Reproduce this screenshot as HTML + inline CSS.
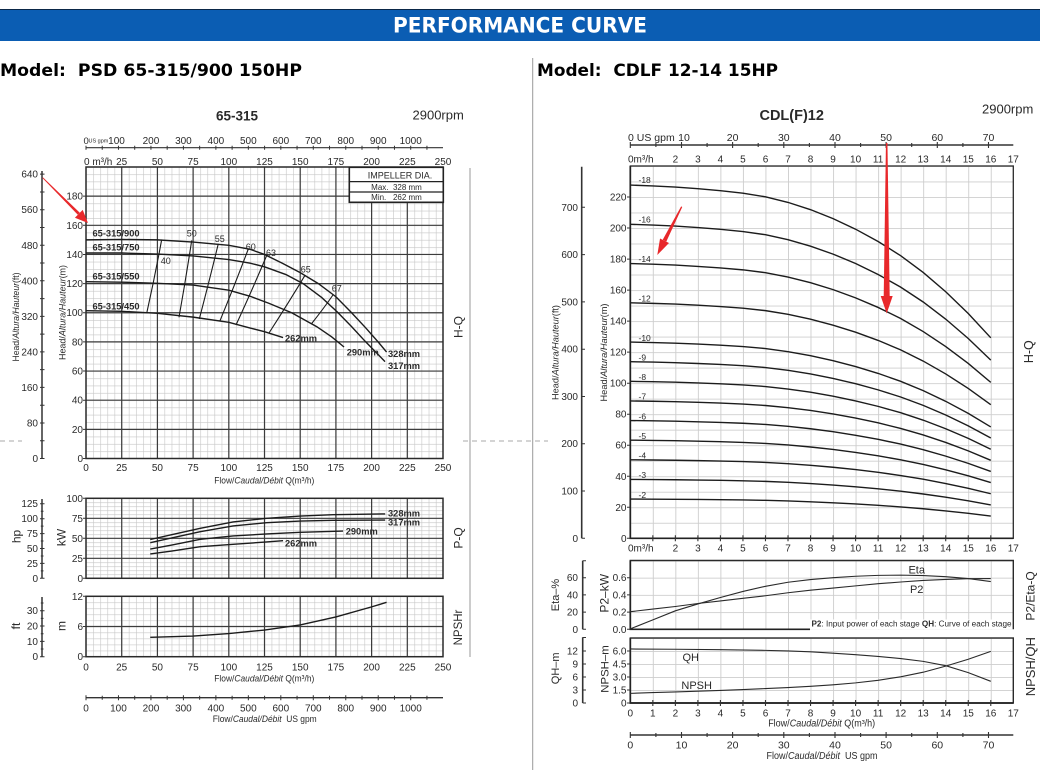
<!DOCTYPE html>
<html><head><meta charset="utf-8">
<style>
html,body{margin:0;padding:0;background:#fff;width:1040px;height:782px;overflow:hidden}
svg{display:block}
text{fill:#2a2a2a;font-family:"Liberation Sans",Arial,sans-serif}
.a{font-size:10px}
.e{text-anchor:end}
.m{text-anchor:middle}
.c{fill:none;stroke:#1c1c1c;stroke-width:1.4;vector-effect:non-scaling-stroke}
.c2{fill:none;stroke:#2a2a2a;stroke-width:1.1;vector-effect:non-scaling-stroke}
.lb{font-size:9.3px;font-weight:bold}
</style></head><body>
<svg width="1040" height="782" viewBox="0 0 1040 782" xmlns="http://www.w3.org/2000/svg">
<defs>
<pattern id="p1" patternUnits="userSpaceOnUse" x="86" y="167" width="7.14" height="7.2875"><path d="M0,0.3H7.14M0.3,0V7.2875" stroke="#c6c6c6" stroke-width="0.6" fill="none"/></pattern>
<pattern id="p2" patternUnits="userSpaceOnUse" x="86" y="498.3" width="7.14" height="4"><path d="M0,0.3H7.14M0.3,0V4" stroke="#c6c6c6" stroke-width="0.6" fill="none"/></pattern>
<pattern id="p3" patternUnits="userSpaceOnUse" x="86" y="596.3" width="7.14" height="6.04"><path d="M0,0.3H7.14M0.3,0V6.04" stroke="#c6c6c6" stroke-width="0.6" fill="none"/></pattern>
<pattern id="p4" patternUnits="userSpaceOnUse" x="630.3" y="166" width="22.53" height="15.513"><path d="M0,0.45H22.53M0.45,0V15.513" stroke="#cdcdcd" stroke-width="0.9" fill="none"/></pattern>
<pattern id="p5" patternUnits="userSpaceOnUse" x="630.3" y="560.5" width="22.53" height="17.2"><path d="M0,0.45H22.53M0.45,0V17.2" stroke="#cdcdcd" stroke-width="0.9" fill="none"/></pattern>
<pattern id="p6" patternUnits="userSpaceOnUse" x="630.3" y="638" width="22.53" height="13"><path d="M0,0.45H22.53M0.45,0V13" stroke="#cdcdcd" stroke-width="0.9" fill="none"/></pattern>
<path id="hq" class="c" d="M0,12.65 L1,12.62 2,12.58 3,12.52 4,12.45 5,12.36 6,12.23 7,12.03 8,11.77 9,11.45 10,11.07 11,10.63 12,10.12 13,9.52 14,8.83 15,8.05 16,7.18"/>
</defs>
<rect width="1040" height="782" fill="#fff"/>

<!-- HEADER -->
<rect x="0" y="9" width="1040" height="32" fill="#0b5db3"/>
<line x1="0" y1="9.5" x2="1040" y2="9.5" stroke="#0a2748" stroke-width="1"/>
<text x="520" y="32.3" text-anchor="middle" style="font-family:'DejaVu Sans','Liberation Sans',sans-serif;font-weight:bold;font-size:21px;fill:#fff" textLength="254" lengthAdjust="spacingAndGlyphs">PERFORMANCE CURVE</text>
<text x="0" y="76" style="font-family:'DejaVu Sans','Liberation Sans',sans-serif;font-weight:bold;font-size:17px;fill:#000;white-space:pre" textLength="302" lengthAdjust="spacingAndGlyphs">Model:  PSD 65-315/900 150HP</text>
<text x="537" y="76" style="font-family:'DejaVu Sans','Liberation Sans',sans-serif;font-weight:bold;font-size:17px;fill:#000;white-space:pre" textLength="241" lengthAdjust="spacingAndGlyphs">Model:  CDLF 12-14 15HP</text>

<!-- separators -->
<line x1="532.7" y1="58" x2="532.7" y2="770" stroke="#9a9a9a" stroke-width="1"/>
<line x1="470" y1="168" x2="470" y2="657" stroke="#9a9a9a" stroke-width="1"/>
<path d="M0,441H22M463,441H548" stroke="#a8a8a8" stroke-width="1" stroke-dasharray="5,4"/>

<!-- ================= LEFT CHART ================= -->
<text x="237" y="120.7" class="m" style="font-size:13.5px;font-weight:bold">65-315</text>
<text x="412.5" y="119.5" style="font-size:13px">2900rpm</text>

<!-- top gpm axis -->
<path d="M86,147.7H443" stroke="#333" stroke-width="1.2"/>
<path d="M86,145.7V149.7M102.24,145.7V149.7M118.47,145.7V149.7M134.71,145.7V149.7M150.94,145.7V149.7M167.18,145.7V149.7M183.41,145.7V149.7M199.65,145.7V149.7M215.88,145.7V149.7M232.12,145.7V149.7M248.35,145.7V149.7M264.59,145.7V149.7M280.82,145.7V149.7M297.06,145.7V149.7M313.29,145.7V149.7M329.53,145.7V149.7M345.76,145.7V149.7M362,145.7V149.7M378.23,145.7V149.7M394.47,145.7V149.7M410.7,145.7V149.7M426.94,145.7V149.7" stroke="#333" stroke-width="1"/>
<text x="83.5" y="144" style="font-size:9.5px">0</text>
<text x="88.5" y="142.5" style="font-size:5.5px">US gpm</text>
<g class="a m">
<text x="116.5" y="144">100</text><text x="150.94" y="144">200</text><text x="183.41" y="144">300</text><text x="215.88" y="144">400</text><text x="248.35" y="144">500</text><text x="280.82" y="144">600</text><text x="313.29" y="144">700</text><text x="345.76" y="144">800</text><text x="378.23" y="144">900</text><text x="410.7" y="144">1000</text>
</g>
<text x="84" y="165" class="a">0 m³/h</text>
<g class="a m">
<text x="121.7" y="165">25</text><text x="157.4" y="165">50</text><text x="193.1" y="165">75</text><text x="228.8" y="165">100</text><text x="264.5" y="165">125</text><text x="300.2" y="165">150</text><text x="335.9" y="165">175</text><text x="371.6" y="165">200</text><text x="407.3" y="165">225</text><text x="443" y="165">250</text>
</g>

<!-- main H-Q plot -->
<rect x="86" y="167" width="357" height="291.5" fill="url(#p1)"/>
<path d="M121.7,167V458.5M157.4,167V458.5M193.1,167V458.5M228.8,167V458.5M264.5,167V458.5M300.2,167V458.5M335.9,167V458.5M371.6,167V458.5M407.3,167V458.5M86,196.15H443M86,225.3H443M86,254.45H443M86,283.6H443M86,312.75H443M86,341.9H443M86,371.05H443M86,400.2H443M86,429.35H443" stroke="#3c3c3c" stroke-width="1.2" fill="none"/>
<rect x="86" y="167" width="357" height="291.5" fill="none" stroke="#2a2a2a" stroke-width="1.5"/>
<path d="M83,458.5H86M83,429.35H86M83,400.2H86M83,371.05H86M83,341.9H86M83,312.75H86M83,283.6H86M83,254.45H86M83,225.3H86M83,196.15H86" stroke="#333" stroke-width="1"/>
<g class="a e">
<text x="83" y="462">0</text><text x="83" y="432.9">20</text><text x="83" y="403.7">40</text><text x="83" y="374.5">60</text><text x="83" y="345.4">80</text><text x="83" y="316.2">100</text><text x="83" y="287.1">120</text><text x="83" y="257.9">140</text><text x="83" y="228.8">160</text><text x="83" y="199.6">180</text>
</g>
<!-- ft axis -->
<path d="M42,171V458.5" stroke="#333" stroke-width="1.5"/>
<path d="M40,458.5H44.5M40,440.73H44.5M40,422.96H44.5M40,405.19H44.5M40,387.42H44.5M40,369.65H44.5M40,351.88H44.5M40,334.11H44.5M40,316.34H44.5M40,298.57H44.5M40,280.8H44.5M40,263.03H44.5M40,245.26H44.5M40,227.49H44.5M40,209.72H44.5M40,191.95H44.5M40,174.18H44.5" stroke="#333" stroke-width="1"/>
<g class="a e">
<text x="38" y="462">0</text><text x="38" y="426.5">80</text><text x="38" y="390.9">160</text><text x="38" y="355.4">240</text><text x="38" y="319.8">320</text><text x="38" y="284.3">400</text><text x="38" y="248.8">480</text><text x="38" y="213.2">560</text><text x="38" y="177.7">640</text>
</g>
<text transform="translate(18.8,317) rotate(-90)" class="m" style="font-size:9px" textLength="89" lengthAdjust="spacingAndGlyphs">Head/<tspan font-style="italic">Altura/Hauteur</tspan>(ft)</text>
<text transform="translate(65.3,312.5) rotate(-90)" class="m" style="font-size:9px" textLength="95" lengthAdjust="spacingAndGlyphs">Head/<tspan font-style="italic">Altura/Hauteur</tspan>(m)</text>
<text transform="translate(462.3,327) rotate(-90)" class="m" style="font-size:12px">H-Q</text>

<!-- impeller box -->
<rect x="349.3" y="167.3" width="94" height="35" fill="#fff" stroke="#222" stroke-width="1.6"/>
<path d="M349.3,181.6H443.3M349.3,192H443.3" stroke="#222" stroke-width="1.2"/>
<text x="400" y="178.5" class="m" style="font-size:9px">IMPELLER DIA.</text>
<text x="396.5" y="190" class="m" style="font-size:8px;white-space:pre">Max.  328 mm</text>
<text x="396.5" y="200" class="m" style="font-size:8px;white-space:pre">Min.   262 mm</text>

<!-- H-Q curves -->
<g transform="matrix(1.428,0,0,-1.4575,86,458.5)">
<path class="c" d="M0,150 L25,150.3 50,150 75,148.5 100,146.3 115,143.5 125,140 137.5,134 150,127.5 162.7,120 175,111 185,101 196,89.5 205,79.5 210.5,73"/>
<path class="c" d="M0,141 L25,141 50,140.3 75,139 100,136.5 115,134 125,131.5 140,126.2 152,120 165,110.5 176,100.5 186,90.5 195.4,80.5 209.4,66.5"/>
<path class="c" d="M0,121.3 L25,121 50,120.2 75,119 100,115.5 115,111.3 128,106.5 144,100 161.5,90.5 172,83.5 180.7,76.5"/>
<path class="c" d="M0,101.4 L25,101 50,99.6 75,97 100,93.4 115,89.5 125,87 138,83"/>
</g>
<!-- efficiency lines -->
<g fill="none" stroke="#1c1c1c" stroke-width="1.1">
<path d="M146.7,313.3 Q155,276 161.7,239.5"/>
<path d="M179,317.3 Q186,278 191.7,240.5"/>
<path d="M199.3,319 Q209.5,280 218.3,243.8"/>
<path d="M220,320.7 Q235.5,283 248.3,249"/>
<path d="M236,325 Q253,288 266.7,255.5"/>
<path d="M269.3,332.5 Q289,302 305,275.3"/>
<path d="M311.7,323.5 Q324,308 333.3,294.5"/>
</g>
<g style="font-size:9px">
<text x="160.7" y="264">40</text><text x="186.7" y="236.7">50</text><text x="214.7" y="242">55</text><text x="245.7" y="250">60</text><text x="266" y="256">63</text><text x="300.7" y="272.3">65</text><text x="331.7" y="291.7">67</text>
</g>
<g class="lb">
<text x="92.5" y="236.5">65-315/900</text>
<text x="92.5" y="250.5">65-315/750</text>
<text x="92.5" y="279.3">65-315/550</text>
<text x="92.5" y="309.3">65-315/450</text>
<text x="388" y="357">328mm</text>
<text x="388" y="369">317mm</text>
<text x="346.7" y="355.7">290mm</text>
<text x="285" y="341.7">262mm</text>
</g>
<g class="a m">
<text x="86" y="471">0</text><text x="121.7" y="471">25</text><text x="157.4" y="471">50</text><text x="193.1" y="471">75</text><text x="228.8" y="471">100</text><text x="264.5" y="471">125</text><text x="300.2" y="471">150</text><text x="335.9" y="471">175</text><text x="371.6" y="471">200</text><text x="407.3" y="471">225</text><text x="443" y="471">250</text>
</g>
<text x="264.3" y="483.5" class="m" style="font-size:9.3px" textLength="100" lengthAdjust="spacingAndGlyphs">Flow/<tspan font-style="italic">Caudal/Débit</tspan> Q(m³/h)</text>

<!-- red arrow left -->
<polygon points="42.42,177.98 42.98,177.42 79.8,212.8 77.8,214.8" fill="#e8282b"/>
<polygon points="88,223 74.9,217.7 82.7,209.9" fill="#e8282b"/>

<!-- P-Q plot -->
<rect x="86" y="498.3" width="357" height="80" fill="url(#p2)"/>
<path d="M121.7,498.3V578.3M157.4,498.3V578.3M193.1,498.3V578.3M228.8,498.3V578.3M264.5,498.3V578.3M300.2,498.3V578.3M335.9,498.3V578.3M371.6,498.3V578.3M407.3,498.3V578.3M86,518.3H443M86,538.3H443M86,558.3H443" stroke="#3c3c3c" stroke-width="1.2" fill="none"/>
<rect x="86" y="498.3" width="357" height="80" fill="none" stroke="#2a2a2a" stroke-width="1.5"/>
<path d="M83,498.3H86M83,518.3H86M83,538.3H86M83,558.3H86M83,578.3H86" stroke="#333"/>
<g class="a e">
<text x="83" y="501.8">100</text><text x="83" y="521.8">75</text><text x="83" y="541.8">50</text><text x="83" y="561.8">25</text><text x="83" y="581.8">0</text>
</g>
<path d="M42,499V578.3" stroke="#333" stroke-width="1.5"/>
<path d="M40,503.7H44.5M40,518.7H44.5M40,533.6H44.5M40,548.5H44.5M40,563.4H44.5M40,578.3H44.5M40.8,511.2H43.5M40.8,526.1H43.5M40.8,541H43.5M40.8,556H43.5M40.8,570.9H43.5" stroke="#333"/>
<g class="a e">
<text x="38" y="507.2">125</text><text x="38" y="522.2">100</text><text x="38" y="537.1">75</text><text x="38" y="552">50</text><text x="38" y="566.9">25</text><text x="38" y="581.8">0</text>
</g>
<text transform="translate(20.7,536.5) rotate(-90)" class="m" style="font-size:12px">hp</text>
<text transform="translate(65.5,537.5) rotate(-90)" class="m" style="font-size:12px">kW</text>
<text transform="translate(462.3,538) rotate(-90)" class="m" style="font-size:12px">P-Q</text>
<g transform="matrix(1.428,0,0,-0.8,86,578.3)">
<path class="c" d="M45,48.5 L60,54.5 80,62.5 103,70.5 126.5,75 150,77.8 173,79.5 209.5,80.5"/>
<path class="c" d="M45,44.5 L60,50.5 80,58.3 103,65.4 126.5,69.5 150,71.6 173,72.5 209.5,72.8"/>
<path class="c" d="M45,36.6 L60,41.5 80,48.7 103,52.9 126.5,55.4 150,57.5 180,59"/>
<path class="c" d="M45,30.4 L60,34 80,39.5 103,42.5 126.5,45.4 138,47"/>
</g>
<g class="lb">
<text x="388" y="516.7">328mm</text>
<text x="388" y="525.7">317mm</text>
<text x="345.7" y="534.3">290mm</text>
<text x="285" y="546.7">262mm</text>
</g>

<!-- NPSH plot -->
<rect x="86" y="596.3" width="357" height="60.4" fill="url(#p3)"/>
<path d="M121.7,596.3V656.7M157.4,596.3V656.7M193.1,596.3V656.7M228.8,596.3V656.7M264.5,596.3V656.7M300.2,596.3V656.7M335.9,596.3V656.7M371.6,596.3V656.7M407.3,596.3V656.7M86,626.5H443" stroke="#3c3c3c" stroke-width="1.2" fill="none"/>
<rect x="86" y="596.3" width="357" height="60.4" fill="none" stroke="#2a2a2a" stroke-width="1.5"/>
<path d="M83,596.3H86M83,626.5H86M83,656.7H86" stroke="#333"/>
<g class="a e">
<text x="83" y="599.8">12</text><text x="83" y="630">6</text><text x="83" y="660.2">0</text>
</g>
<path d="M42,597V656.7" stroke="#333" stroke-width="1.5"/>
<path d="M40,656.7H44.5M40,641.4H44.5M40,626H44.5M40,610.7H44.5M40.8,649H43.5M40.8,633.7H43.5M40.8,618.4H43.5M40.8,603H43.5" stroke="#333"/>
<g class="a e">
<text x="38" y="660.2">0</text><text x="38" y="644.9">10</text><text x="38" y="629.5">20</text><text x="38" y="614.2">30</text>
</g>
<text transform="translate(20,626) rotate(-90)" class="m" style="font-size:12px">ft</text>
<text transform="translate(65.7,626) rotate(-90)" class="m" style="font-size:12px">m</text>
<text transform="translate(462,627.5) rotate(-90)" class="m" style="font-size:11.5px">NPSHr</text>
<g transform="matrix(1.428,0,0,-5.033,86,656.7)">
<path class="c" d="M45,3.85 L75,4.1 100,4.6 125,5.3 150,6.3 175,7.9 200,9.9 210.5,10.8"/>
</g>
<g class="a m">
<text x="86" y="670.5">0</text><text x="121.7" y="670.5">25</text><text x="157.4" y="670.5">50</text><text x="193.1" y="670.5">75</text><text x="228.8" y="670.5">100</text><text x="264.5" y="670.5">125</text><text x="300.2" y="670.5">150</text><text x="335.9" y="670.5">175</text><text x="371.6" y="670.5">200</text><text x="407.3" y="670.5">225</text><text x="443" y="670.5">250</text>
</g>
<text x="264.3" y="681.5" class="m" style="font-size:9.3px" textLength="100" lengthAdjust="spacingAndGlyphs">Flow/<tspan font-style="italic">Caudal/Débit</tspan> Q(m³/h)</text>
<!-- bottom gpm axis -->
<path d="M86,697.7H443" stroke="#333" stroke-width="1.4"/>
<path d="M86,695.2V700.2M102.24,695.7V699.7M118.47,695.2V700.2M134.71,695.7V699.7M150.94,695.2V700.2M167.18,695.7V699.7M183.41,695.2V700.2M199.65,695.7V699.7M215.88,695.2V700.2M232.12,695.7V699.7M248.35,695.2V700.2M264.59,695.7V699.7M280.82,695.2V700.2M297.06,695.7V699.7M313.29,695.2V700.2M329.53,695.7V699.7M345.76,695.2V700.2M362,695.7V699.7M378.23,695.2V700.2M394.47,695.7V699.7M410.7,695.2V700.2M426.94,695.7V699.7" stroke="#333" stroke-width="1"/>
<g class="a m">
<text x="86" y="711.5">0</text><text x="118.47" y="711.5">100</text><text x="150.94" y="711.5">200</text><text x="183.41" y="711.5">300</text><text x="215.88" y="711.5">400</text><text x="248.35" y="711.5">500</text><text x="280.82" y="711.5">600</text><text x="313.29" y="711.5">700</text><text x="345.76" y="711.5">800</text><text x="378.23" y="711.5">900</text><text x="410.7" y="711.5">1000</text>
</g>
<text x="264.7" y="722" class="m" style="font-size:9.3px;white-space:pre" textLength="104" lengthAdjust="spacingAndGlyphs">Flow/<tspan font-style="italic">Caudal/Débit</tspan>  US gpm</text>

<!-- ================= RIGHT CHART ================= -->
<text x="791.7" y="120" class="m" style="font-size:14.5px;font-weight:bold">CDL(F)12</text>
<text x="982" y="113.5" style="font-size:13px">2900rpm</text>

<!-- top gpm axis -->
<path d="M630.3,145H1013.3" stroke="#333" stroke-width="1.4"/>
<path d="M630.3,142V148M655.9,143V147M681.5,142V148M707.1,143V147M732.6,142V148M758.2,143V147M783.8,142V148M809.4,143V147M835,142V148M860.6,143V147M886.1,142V148M911.7,143V147M937.3,142V148M962.9,143V147M988.5,142V148" stroke="#333" stroke-width="1.1"/>
<text x="628" y="141" style="font-size:10.5px">0 US gpm</text>
<g class="a m" style="font-size:10.5px">
<text x="684" y="141">10</text><text x="732.6" y="141">20</text><text x="783.8" y="141">30</text><text x="835" y="141">40</text><text x="886.1" y="141">50</text><text x="937.3" y="141">60</text><text x="988.5" y="141">70</text>
</g>
<text x="628" y="162.3" class="a">0m³/h</text>
<g class="a m">
<text x="675.36" y="162.3">2</text><text x="697.89" y="162.3">3</text><text x="720.42" y="162.3">4</text><text x="742.95" y="162.3">5</text><text x="765.48" y="162.3">6</text><text x="788.01" y="162.3">7</text><text x="810.54" y="162.3">8</text><text x="833.07" y="162.3">9</text><text x="855.6" y="162.3">10</text><text x="878.13" y="162.3">11</text><text x="900.66" y="162.3">12</text><text x="923.19" y="162.3">13</text><text x="945.72" y="162.3">14</text><text x="968.25" y="162.3">15</text><text x="990.78" y="162.3">16</text><text x="1013.31" y="162.3">17</text>
</g>

<!-- main plot -->
<rect x="630.3" y="166" width="383" height="372.3" fill="url(#p4)"/>
<rect x="630.3" y="166" width="383" height="372.3" fill="none" stroke="#2a2a2a" stroke-width="1.3"/>
<path d="M630.3,166V538.3H1013.3" stroke="#222" stroke-width="1.7" fill="none"/>
<path d="M627,538.3H630.3M627,507.3H630.3M627,476.3H630.3M627,445.2H630.3M627,414.2H630.3M627,383.2H630.3M627,352.1H630.3M627,321.1H630.3M627,290.1H630.3M627,259.1H630.3M627,228H630.3M627,197H630.3" stroke="#333"/>
<path d="M652.83,535.3V541.3M675.36,535.3V541.3M697.89,535.3V541.3M720.42,535.3V541.3M742.95,535.3V541.3M765.48,535.3V541.3M788.01,535.3V541.3M810.54,535.3V541.3M833.07,535.3V541.3M855.6,535.3V541.3M878.13,535.3V541.3M900.66,535.3V541.3M923.19,535.3V541.3M945.72,535.3V541.3M968.25,535.3V541.3M990.78,535.3V541.3" stroke="#333" stroke-width="1.1"/>
<g class="a e">
<text x="626.5" y="541.8">0</text><text x="626.5" y="510.8">20</text><text x="626.5" y="479.8">40</text><text x="626.5" y="448.7">60</text><text x="626.5" y="417.7">80</text><text x="626.5" y="386.7">100</text><text x="626.5" y="355.6">120</text><text x="626.5" y="324.6">140</text><text x="626.5" y="293.6">160</text><text x="626.5" y="262.6">180</text><text x="626.5" y="231.5">200</text><text x="626.5" y="200.5">220</text>
</g>
<!-- ft axis -->
<path d="M581.7,166.7V538.3" stroke="#333" stroke-width="1.6"/>
<path d="M581.7,538.3H585M581.7,491H585M581.7,443.7H585M581.7,396.5H585M581.7,349.2H585M581.7,301.9H585M581.7,254.6H585M581.7,207.3H585" stroke="#333"/>
<g class="a e">
<text x="578" y="541.8">0</text><text x="578" y="494.5">100</text><text x="578" y="447.2">200</text><text x="578" y="400">300</text><text x="578" y="352.7">400</text><text x="578" y="305.4">500</text><text x="578" y="258.1">600</text><text x="578" y="210.8">700</text>
</g>
<text transform="translate(558.3,352.5) rotate(-90)" class="m" style="font-size:9px" textLength="95" lengthAdjust="spacingAndGlyphs">Head/<tspan font-style="italic">Altura/Hauteur</tspan>(ft)</text>
<text transform="translate(607,352.5) rotate(-90)" class="m" style="font-size:9.3px" textLength="98" lengthAdjust="spacingAndGlyphs">Head/<tspan font-style="italic">Altura/Hauteur</tspan>(m)</text>
<text transform="translate(1033.2,351.7) rotate(-90)" class="m" style="font-size:12.5px">H-Q</text>

<!-- stage curves -->
<use href="#hq" transform="matrix(22.53,0,0,-27.923,630.3,538.3)"/>
<use href="#hq" transform="matrix(22.53,0,0,-24.821,630.3,538.3)"/>
<use href="#hq" transform="matrix(22.53,0,0,-21.718,630.3,538.3)"/>
<use href="#hq" transform="matrix(22.53,0,0,-18.616,630.3,538.3)"/>
<use href="#hq" transform="matrix(22.53,0,0,-15.513,630.3,538.3)"/>
<use href="#hq" transform="matrix(22.53,0,0,-13.962,630.3,538.3)"/>
<use href="#hq" transform="matrix(22.53,0,0,-12.41,630.3,538.3)"/>
<use href="#hq" transform="matrix(22.53,0,0,-10.859,630.3,538.3)"/>
<use href="#hq" transform="matrix(22.53,0,0,-9.308,630.3,538.3)"/>
<use href="#hq" transform="matrix(22.53,0,0,-7.757,630.3,538.3)"/>
<use href="#hq" transform="matrix(22.53,0,0,-6.205,630.3,538.3)"/>
<use href="#hq" transform="matrix(22.53,0,0,-4.654,630.3,538.3)"/>
<use href="#hq" transform="matrix(22.53,0,0,-3.103,630.3,538.3)"/>
<g style="font-size:8.5px">
<text x="638.5" y="183">-18</text><text x="638.5" y="222.5">-16</text><text x="638.5" y="261.8">-14</text><text x="638.5" y="301.5">-12</text><text x="638.5" y="340.8">-10</text><text x="638.5" y="360.4">-9</text><text x="638.5" y="380">-8</text><text x="638.5" y="399.6">-7</text><text x="638.5" y="419.3">-6</text><text x="638.5" y="438.9">-5</text><text x="638.5" y="458.5">-4</text><text x="638.5" y="478.1">-3</text><text x="638.5" y="497.8">-2</text>
</g>
<g class="a m">
<text x="628" y="551.5" style="text-anchor:start">0m³/h</text>
<text x="675.36" y="551.5">2</text><text x="697.89" y="551.5">3</text><text x="720.42" y="551.5">4</text><text x="742.95" y="551.5">5</text><text x="765.48" y="551.5">6</text><text x="788.01" y="551.5">7</text><text x="810.54" y="551.5">8</text><text x="833.07" y="551.5">9</text><text x="855.6" y="551.5">10</text><text x="878.13" y="551.5">11</text><text x="900.66" y="551.5">12</text><text x="923.19" y="551.5">13</text><text x="945.72" y="551.5">14</text><text x="968.25" y="551.5">15</text><text x="990.78" y="551.5">16</text><text x="1013.31" y="551.5">17</text>
</g>

<!-- red arrows right -->
<polygon points="885.95,143 887.45,143 889.7,297 883.7,297" fill="#e8282b"/>
<polygon points="886.7,313.5 880.7,296 892.7,296" fill="#e8282b"/>
<polygon points="682.24,206.97 681.16,206.43 662.71,239.8 666.29,241.6" fill="#e8282b"/>
<polygon points="657.3,255 668.97,242.96 660.04,238.45" fill="#e8282b"/>

<!-- P2 / Eta panel -->
<rect x="630.3" y="560.5" width="383" height="68.8" fill="url(#p5)"/>
<rect x="810" y="619.5" width="202.5" height="9.5" fill="#fff"/>
<path d="M630.3,629.3V560.5H1013.3V629.3" stroke="#2a2a2a" stroke-width="1.4" fill="none"/>
<path d="M630.3,560.5V629.3H810" stroke="#222" stroke-width="1.7" fill="none"/>
<path d="M627,577.7H630.3M627,594.9H630.3M627,612.1H630.3M627,629.3H630.3" stroke="#333"/>
<g class="a e">
<text x="626.5" y="581.2">0.6</text><text x="626.5" y="598.4">0.4</text><text x="626.5" y="615.6">0.2</text><text x="626.5" y="632.8">0.0</text>
</g>
<path d="M582.7,560.7V629.3" stroke="#333" stroke-width="1.6"/>
<path d="M582.7,577.7H586M582.7,594.9H586M582.7,612.1H586M582.7,629.3H586M582.7,560.7H586" stroke="#333"/>
<g class="a e">
<text x="578" y="581.2">60</text><text x="578" y="598.4">40</text><text x="578" y="615.6">20</text><text x="578" y="632.8">0</text>
</g>
<text transform="translate(559,595) rotate(-90)" class="m" style="font-size:11px">Eta–%</text>
<text transform="translate(608.3,593.3) rotate(-90)" class="m" style="font-size:12px">P2–kW</text>
<text transform="translate(1034.3,596) rotate(-90)" class="m" style="font-size:12px">P2/Eta-Q</text>
<g transform="matrix(22.53,0,0,-86,630.3,629.3)">
<path class="c2" d="M0,0.005 L1,0.11 2,0.215 3,0.295 4,0.37 5,0.44 6,0.5 7,0.547 8,0.578 9,0.6 10,0.617 11,0.627 12,0.63 13,0.625 14,0.612 15,0.59 16,0.555"/>
<path class="c2" d="M0,0.205 L1,0.235 2,0.265 3,0.3 4,0.33 5,0.36 6,0.39 7,0.425 8,0.455 9,0.48 10,0.505 11,0.53 12,0.55 13,0.568 14,0.58 15,0.588 16,0.59"/>
</g>
<text x="916.7" y="573.5" class="m" style="font-size:11px">Eta</text>
<text x="916.7" y="593" class="m" style="font-size:11px">P2</text>
<text x="1011.5" y="626.3" class="e" style="font-size:8px" textLength="200" lengthAdjust="spacingAndGlyphs"><tspan font-weight="bold">P2</tspan>: Input power of each stage <tspan font-weight="bold">QH</tspan>: Curve of each stage</text>

<!-- NPSH / QH panel -->
<rect x="630.3" y="638" width="383" height="65" fill="url(#p6)"/>
<rect x="630.3" y="638" width="383" height="65" fill="none" stroke="#2a2a2a" stroke-width="1.4"/>
<path d="M630.3,638V703H1013.3" stroke="#222" stroke-width="1.7" fill="none"/>
<path d="M627,651H630.3M627,664H630.3M627,677H630.3M627,690H630.3M627,703H630.3" stroke="#333"/>
<g class="a e">
<text x="626.5" y="654.5">6.0</text><text x="626.5" y="667.5">4.5</text><text x="626.5" y="680.5">3.0</text><text x="626.5" y="693.5">1.5</text><text x="626.5" y="706.5">0</text>
</g>
<path d="M582.7,637.3V703" stroke="#333" stroke-width="1.6"/>
<path d="M582.7,651H586M582.7,664H586M582.7,677H586M582.7,690H586M582.7,703H586M582.7,637.5H586" stroke="#333"/>
<g class="a e">
<text x="578" y="654.5">12</text><text x="578" y="667.5">9</text><text x="578" y="680.5">6</text><text x="578" y="693.5">3</text><text x="578" y="706.5">0</text>
</g>
<text transform="translate(559,668.3) rotate(-90)" class="m" style="font-size:11px">QH–m</text>
<text transform="translate(608.3,669) rotate(-90)" class="m" style="font-size:11.4px">NPSH–m</text>
<text transform="translate(1034.8,666.7) rotate(-90)" class="m" style="font-size:13px">NPSH/QH</text>
<path d="M652.83,700V706M675.36,700V706M697.89,700V706M720.42,700V706M742.95,700V706M765.48,700V706M788.01,700V706M810.54,700V706M833.07,700V706M855.6,700V706M878.13,700V706M900.66,700V706M923.19,700V706M945.72,700V706M968.25,700V706M990.78,700V706" stroke="#333" stroke-width="1.1"/>
<g transform="matrix(22.53,0,0,-8.67,630.3,703)">
<path class="c2" d="M0,6.23 L2,6.2 4,6.15 6,6.07 7,6 8,5.9 9,5.75 10,5.57 11,5.37 12,5.13 13,4.8 14,4.3 15,3.5 16,2.5"/>
<path class="c2" d="M0,1.11 L1,1.2 2,1.28 3,1.36 4,1.45 5,1.55 6,1.66 7,1.78 8,1.92 9,2.1 10,2.32 11,2.62 12,3.02 13,3.55 14,4.25 15,5.05 16,5.95"/>
</g>
<text x="690.7" y="661" class="m" style="font-size:11px">QH</text>
<text x="696.7" y="689" class="m" style="font-size:11px">NPSH</text>
<g class="a m">
<text x="630.3" y="716.5">0</text><text x="652.83" y="716.5">1</text><text x="675.36" y="716.5">2</text><text x="697.89" y="716.5">3</text><text x="720.42" y="716.5">4</text><text x="742.95" y="716.5">5</text><text x="765.48" y="716.5">6</text><text x="788.01" y="716.5">7</text><text x="810.54" y="716.5">8</text><text x="833.07" y="716.5">9</text><text x="855.6" y="716.5">10</text><text x="878.13" y="716.5">11</text><text x="900.66" y="716.5">12</text><text x="923.19" y="716.5">13</text><text x="945.72" y="716.5">14</text><text x="968.25" y="716.5">15</text><text x="990.78" y="716.5">16</text><text x="1013.31" y="716.5">17</text>
</g>
<text x="821.7" y="726.5" class="m" style="font-size:9.8px" textLength="107" lengthAdjust="spacingAndGlyphs">Flow/<tspan font-style="italic">Caudal/Débit</tspan> Q(m³/h)</text>
<!-- bottom gpm axis right -->
<path d="M630.3,735H1013.3" stroke="#333" stroke-width="1.4"/>
<path d="M630.3,732V738M655.9,733V737M681.5,732V738M707.1,733V737M732.6,732V738M758.2,733V737M783.8,732V738M809.4,733V737M835,732V738M860.6,733V737M886.1,732V738M911.7,733V737M937.3,732V738M962.9,733V737M988.5,732V738" stroke="#333" stroke-width="1.1"/>
<g class="a m" style="font-size:10.5px">
<text x="630.3" y="748.3">0</text><text x="681.5" y="748.3">10</text><text x="732.6" y="748.3">20</text><text x="783.8" y="748.3">30</text><text x="835" y="748.3">40</text><text x="886.1" y="748.3">50</text><text x="937.3" y="748.3">60</text><text x="988.5" y="748.3">70</text>
</g>
<text x="822" y="759" class="m" style="font-size:9.8px;white-space:pre" textLength="111" lengthAdjust="spacingAndGlyphs">Flow/<tspan font-style="italic">Caudal/Débit</tspan>  US gpm</text>
</svg>
</body></html>
